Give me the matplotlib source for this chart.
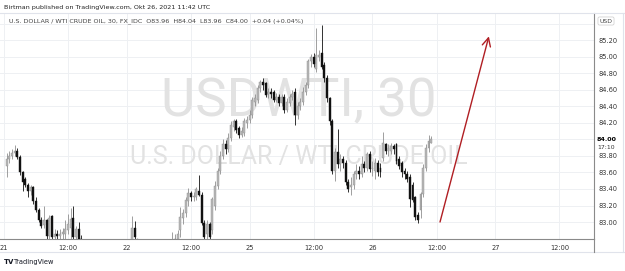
import matplotlib
matplotlib.use("Agg")
import matplotlib.pyplot as plt
import numpy as np

# ---------------- data (30-minute bars, index 0 = Oct 21 00:00) ----------------
first_index = 1
opens = [
    83.68, 83.76, 83.80, 83.84, 83.86, 83.79, 83.60, 83.52, 83.45, 83.37,
    83.42, 83.25, 83.15, 83.03, 82.96, 83.02, 82.83, 83.07, 82.82, 82.85,
    82.83, 82.86, 82.85, 82.90, 82.93, 83.05, 82.82, 82.92, 82.80, 82.78,
    82.72, 82.66, 82.60, 82.56, 82.60, 82.54, 82.50, 82.53, 82.48, 82.52,
    82.56, 82.54, 82.60, 82.64, 82.62, 82.67, 82.70, 82.76, 82.93, 82.79,
    82.74, 82.70, 82.66, 82.69, 82.64, 82.60, 82.63, 82.67, 82.65, 82.70,
    82.68, 82.72, 82.72, 82.78, 82.80, 82.90, 83.05, 83.11, 83.25, 83.35,
    83.30, 83.30, 83.38, 83.33, 82.99, 82.86, 82.97, 82.90, 83.20, 83.44,
    83.62, 83.80, 83.95, 83.88, 84.02, 84.15, 84.22, 84.14, 84.06, 84.08,
    84.20, 84.24, 84.30, 84.46, 84.48, 84.62, 84.70, 84.68, 84.55, 84.58,
    84.58, 84.48, 84.52, 84.44, 84.52, 84.36, 84.44, 84.52, 84.58, 84.30,
    84.40, 84.46, 84.58, 84.66, 84.95, 85.00, 84.85, 85.00, 85.05, 84.90,
    84.74, 84.50, 84.22, 83.62, 83.85, 83.70, 83.76, 83.72, 83.48, 83.42,
    83.45, 83.58, 83.62, 83.58, 83.70, 83.66, 83.82, 83.64, 83.62, 83.72,
    83.66, 83.78, 83.94, 83.86, 83.86, 83.92, 83.94, 83.76, 83.72, 83.62,
    83.58, 83.55, 83.45, 83.30, 83.08, 83.15, 83.34, 83.66, 83.90, 83.96,
]
highs = [
    83.84, 83.86, 83.88, 83.93, 83.90, 83.81, 83.62, 83.55, 83.47, 83.45,
    83.44, 83.30, 83.17, 83.06, 83.19, 83.04, 83.08, 83.09, 82.92, 82.90,
    82.92, 82.93, 83.02, 83.10, 83.17, 83.19, 82.95, 83.00, 82.84, 82.80,
    82.76, 82.70, 82.64, 82.64, 82.63, 82.58, 82.57, 82.56, 82.56, 82.60,
    82.60, 82.64, 82.68, 82.68, 82.72, 82.75, 82.79, 83.07, 83.01, 82.80,
    82.77, 82.73, 82.72, 82.71, 82.67, 82.66, 82.70, 82.71, 82.74, 82.74,
    82.76, 82.79, 82.88, 82.86, 82.90, 83.18, 83.16, 83.30, 83.41, 83.38,
    83.36, 83.43, 83.57, 83.36, 83.02, 83.02, 83.00, 83.30, 83.50, 83.66,
    83.86, 84.00, 83.99, 84.08, 84.23, 84.25, 84.25, 84.16, 84.15, 84.26,
    84.28, 84.36, 84.52, 84.55, 84.66, 84.72, 84.75, 84.70, 84.62, 84.62,
    84.60, 84.56, 84.55, 84.55, 84.55, 84.50, 84.55, 84.60, 84.62, 84.45,
    84.50, 84.64, 84.70, 84.98, 85.04, 85.05, 85.35, 85.08, 85.39, 84.94,
    84.78, 84.52, 84.25, 83.90, 84.13, 83.82, 83.80, 83.75, 83.52, 83.55,
    83.62, 83.70, 83.68, 83.80, 83.74, 83.85, 83.86, 83.74, 83.78, 83.75,
    83.72, 84.09, 83.96, 83.94, 83.96, 83.95, 83.96, 83.80, 83.74, 83.66,
    83.62, 83.58, 83.48, 83.32, 83.12, 83.36, 83.70, 83.95, 84.06, 84.04,
]
lows = [
    83.55, 83.72, 83.76, 83.80, 83.76, 83.57, 83.37, 83.42, 83.30, 83.33,
    83.22, 83.12, 83.00, 82.93, 82.93, 82.75, 82.80, 82.70, 82.70, 82.72,
    82.75, 82.78, 82.80, 82.85, 82.80, 82.78, 82.78, 82.75, 82.70, 82.66,
    82.60, 82.55, 82.50, 82.52, 82.50, 82.45, 82.46, 82.44, 82.45, 82.49,
    82.50, 82.51, 82.57, 82.58, 82.59, 82.63, 82.66, 82.72, 82.76, 82.70,
    82.65, 82.61, 82.62, 82.60, 82.56, 82.57, 82.60, 82.61, 82.62, 82.64,
    82.65, 82.69, 82.65, 82.70, 82.75, 82.82, 82.98, 83.06, 83.20, 83.25,
    83.26, 83.27, 83.32, 82.96, 82.72, 82.80, 82.75, 82.86, 83.15, 83.40,
    83.58, 83.76, 83.82, 83.85, 83.98, 84.10, 84.08, 84.02, 84.03, 84.04,
    84.14, 84.20, 84.26, 84.40, 84.44, 84.58, 84.60, 84.52, 84.50, 84.50,
    84.45, 84.45, 84.40, 84.40, 84.32, 84.33, 84.40, 84.48, 84.18, 84.25,
    84.36, 84.42, 84.54, 84.62, 84.88, 84.88, 84.82, 84.95, 84.85, 84.70,
    84.45, 84.18, 83.58, 83.50, 83.65, 83.62, 83.66, 83.45, 83.36, 83.33,
    83.40, 83.52, 83.52, 83.55, 83.60, 83.62, 83.60, 83.56, 83.52, 83.56,
    83.55, 83.74, 83.82, 83.80, 83.82, 83.82, 83.70, 83.64, 83.55, 83.52,
    83.48, 83.18, 83.24, 83.02, 82.99, 83.05, 83.30, 83.62, 83.85, 83.96,
]
closes = [
    83.76, 83.80, 83.84, 83.86, 83.79, 83.60, 83.48, 83.45, 83.38, 83.42,
    83.25, 83.15, 83.03, 82.95, 83.02, 82.83, 83.05, 82.82, 82.85, 82.83,
    82.86, 82.88, 82.92, 82.98, 83.04, 82.82, 82.92, 82.80, 82.78, 82.72,
    82.66, 82.60, 82.56, 82.60, 82.54, 82.50, 82.53, 82.48, 82.52, 82.56,
    82.54, 82.60, 82.64, 82.62, 82.67, 82.70, 82.76, 82.93, 82.82, 82.74,
    82.70, 82.66, 82.69, 82.64, 82.60, 82.63, 82.67, 82.65, 82.70, 82.68,
    82.72, 82.74, 82.78, 82.80, 82.86, 83.06, 83.11, 83.27, 83.35, 83.30,
    83.32, 83.40, 83.33, 82.99, 82.82, 82.97, 82.82, 83.28, 83.44, 83.62,
    83.80, 83.95, 83.88, 84.02, 84.18, 84.22, 84.12, 84.06, 84.10, 84.22,
    84.24, 84.30, 84.48, 84.50, 84.63, 84.70, 84.66, 84.54, 84.58, 84.55,
    84.48, 84.52, 84.44, 84.52, 84.36, 84.46, 84.52, 84.55, 84.30, 84.40,
    84.46, 84.58, 84.66, 84.95, 85.00, 84.92, 85.02, 85.03, 84.88, 84.74,
    84.50, 84.22, 83.62, 83.85, 83.70, 83.76, 83.72, 83.48, 83.40, 83.45,
    83.58, 83.62, 83.58, 83.70, 83.66, 83.82, 83.64, 83.66, 83.72, 83.60,
    83.60, 83.96, 83.86, 83.90, 83.92, 83.88, 83.74, 83.68, 83.60, 83.58,
    83.52, 83.28, 83.27, 83.06, 83.02, 83.34, 83.66, 83.90, 83.98, 84.00,
]

time_tick_index = [0, 24, 46, 70, 92, 116, 138, 162, 184, 208]
time_tick_labels = ["21", "12:00", "22", "12:00", "25", "12:00", "26", "12:00", "27", "12:00"]
price_ticks = [83.00, 83.20, 83.40, 83.60, 83.80, 84.20, 84.40, 84.60, 84.80, 85.00, 85.20]
last_price = 84.00
last_countdown = "17:10"
arrow_start = (163.3, 83.00)
arrow_end = (181.6, 85.25)

title_line = "Birtman published on TradingView.com, Okt 26, 2021 11:42 UTC"
legend_line = "U.S. DOLLAR / WTI CRUDE OIL, 30, FX_IDC  O83.96  H84.04  L83.96  C84.00  +0.04 (+0.04%)"
watermark_big = "USDWTI, 30"
watermark_small = "U.S. DOLLAR / WTI CRUDE OIL"

# ---------------- figure ----------------
W, H = 625, 271
fig = plt.figure(figsize=(W / 100, H / 100), dpi=100)
plt.rcParams["font.family"] = ["DejaVu Sans"]
narrow = ["Liberation Sans Narrow", "Roboto", "DejaVu Sans"]

ax_l, ax_r, ax_t, ax_b = 0, 594, 13, 239
ylo, yhi = 82.794, 85.533
ax = fig.add_axes([ax_l / W, 1 - ax_b / H, (ax_r - ax_l) / W, (ax_b - ax_t) / H])
ax.set_xlim(-1.5, 220.97)
ax.set_ylim(ylo, yhi)

# grid
for p in np.arange(82.8, 85.6, 0.2):
    ax.axhline(p, color="#eef0f3", lw=0.7, zorder=0)
for t in time_tick_index:
    ax.axvline(t, color="#eef0f3", lw=0.7, zorder=0)

# watermark
ax.text(0.503, 0.61, watermark_big, transform=ax.transAxes, ha="center", va="center",
        fontsize=38, color="#e2e2e2", zorder=0.5, family=narrow)
ax.text(0.503, 0.365, watermark_small, transform=ax.transAxes, ha="center", va="center",
        fontsize=18, color="#e2e2e2", zorder=0.5, family=narrow)

# candles
idx = np.arange(first_index, first_index + len(closes))
o = np.array(opens); h = np.array(highs); l = np.array(lows); c = np.array(closes)
up = c >= o
up_col, up_edge, dn_col = "#b8b8b8", "#8f8f8f", "#111111"
ax.vlines(idx[up], l[up], h[up], color=up_edge, lw=0.6, zorder=2)
ax.vlines(idx[~up], l[~up], h[~up], color=dn_col, lw=0.6, zorder=2)
body_lo = np.minimum(o, c)
body_h = np.maximum(np.abs(c - o), 0.008)
ax.bar(idx[up], body_h[up], bottom=body_lo[up], width=0.72, color=up_col,
       edgecolor=up_edge, lw=0.3, zorder=3)
ax.bar(idx[~up], body_h[~up], bottom=body_lo[~up], width=0.72, color=dn_col,
       edgecolor=dn_col, lw=0.3, zorder=3)

# arrow drawing
ax.annotate("", xy=arrow_end, xytext=arrow_start,
            arrowprops=dict(arrowstyle="->,head_length=0.6,head_width=0.3",
                            color="#b01e23", lw=1.0, shrinkA=0, shrinkB=0), zorder=5)

# axes styling
for s in ["left", "top"]:
    ax.spines[s].set_visible(False)
ax.spines["bottom"].set_color("#8a8a8a")
ax.spines["bottom"].set_linewidth(0.8)
ax.spines["right"].set_color("#8a8a8a")
ax.spines["right"].set_linewidth(0.8)

ax.set_xticks(time_tick_index)
ax.set_xticklabels(time_tick_labels)
ax.tick_params(axis="x", length=0, pad=4, labelsize=4.8, labelcolor="#333333")
ax.yaxis.tick_right()
ax.set_yticks(price_ticks)
ax.set_yticklabels([f"{p:.2f}" for p in price_ticks])
ax.tick_params(axis="y", length=0, pad=3, labelsize=4.8, labelcolor="#333333")

# last price label on scale
def yfrac(p):
    return (p - ylo) / (yhi - ylo)

ax.text(1.005, yfrac(last_price), f"{last_price:.2f}",
        transform=ax.transAxes, ha="left", va="center", fontsize=4.6, color="#000000",
        fontweight="bold", zorder=7,
        bbox=dict(boxstyle="square,pad=0.05", fc="white", ec="none"))
ax.text(1.005, yfrac(last_price - 0.095), last_countdown,
        transform=ax.transAxes, ha="left", va="center", fontsize=4.4, color="#333333",
        zorder=7, bbox=dict(boxstyle="square,pad=0.05", fc="white", ec="none"))

# frame lines outside axes
fig.add_artist(plt.Line2D([0, 1], [1 - 13 / H, 1 - 13 / H], color="#e0e3eb", lw=0.8))
fig.add_artist(plt.Line2D([0, 1], [1 - 252 / H, 1 - 252 / H], color="#e0e3eb", lw=0.8))
fig.add_artist(plt.Line2D([623 / W, 623 / W], [1 - 252 / H, 1 - 13 / H], color="#e0e3eb", lw=0.8))
fig.add_artist(plt.Line2D([594 / W, 594 / W], [1 - 252 / H, 1 - 239 / H], color="#8a8a8a", lw=0.8))

# header texts
fig.text(4 / W, 1 - 7 / H, title_line, ha="left", va="center", fontsize=4.6, color="#222222")
fig.text(9 / W, 1 - 21 / H, legend_line, ha="left", va="center", fontsize=4.6, color="#444444")
fig.text(606 / W, 1 - 21 / H, "USD", ha="center", va="center", fontsize=4.4, color="#444444",
         bbox=dict(boxstyle="round,pad=0.25", fc="white", ec="#cccccc", lw=0.5))

# footer
fig.text(4 / W, 1 - 262 / H, "TV", ha="left", va="center", fontsize=5, fontweight="bold", color="#131722")
fig.text(14 / W, 1 - 262 / H, "TradingView", ha="left", va="center", fontsize=4.8, color="#131722")

fig.savefig("out.png", dpi=100)
